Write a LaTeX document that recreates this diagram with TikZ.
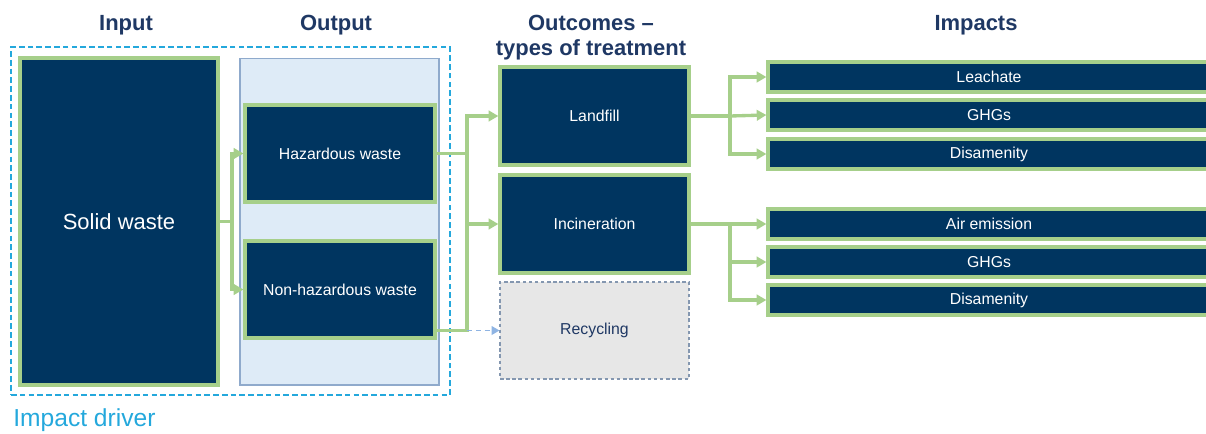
\documentclass[tikz,border=0pt]{standalone}
\usepackage{fontspec}
\setmainfont{Liberation Sans}
\usepackage{tikz}
\usetikzlibrary{shapes.geometric, arrows.meta}
\definecolor{navy}{RGB}{0,53,96}
\definecolor{leaf}{RGB}{166,207,138}
\definecolor{headblue}{RGB}{31,56,100}
\definecolor{drivercyan}{RGB}{36,168,220}
\definecolor{panelfill}{RGB}{222,235,247}
\definecolor{paneledge}{RGB}{143,170,204}
\definecolor{recyfill}{RGB}{231,231,231}
\definecolor{recyedge}{RGB}{132,151,176}
\definecolor{dashblue}{RGB}{143,180,227}
\tikzstyle{wastebox} = [rectangle, minimum width=3.8cm, minimum height=1.94cm, inner sep=0pt, text centered, draw=leaf, line width=1.9pt, fill=navy, text=white, font=\fontsize{9}{11}\selectfont]
\tikzstyle{treatbox} = [wastebox, minimum width=3.78cm, minimum height=1.96cm]
\tikzstyle{impactbox} = [wastebox, minimum width=8.84cm, minimum height=0.6cm]
\tikzstyle{header} = [text=headblue, align=center, font=\fontsize{12.5}{14.2}\selectfont\bfseries]
\tikzstyle{arrow} = [draw=leaf, line width=1.9pt, -{Triangle[length=5.5pt,width=6pt]}]
\tikzstyle{branch} = [draw=leaf, line width=1.9pt]
\tikzstyle{dasharrow} = [draw=dashblue, line width=0.8pt, dash pattern=on 3pt off 2pt, -{Triangle[length=4.5pt,width=5pt]}]

\begin{document}
\begin{tikzpicture}[x=0.02cm, y=-0.02cm]
  \useasboundingbox (0,0) rectangle (1206,433);
  \clip (0,0) rectangle (1206,433);

  \node (hin) [header] at (126,25) {Input};
  \node (hout) [header] at (336,25) {Output};
  \node (hoc) [header] at (591,37.5) {Outcomes --\\types of treatment};
  \node (himp) [header] at (976,25) {Impacts};

  \node (driver) [rectangle, draw=drivercyan, line width=0.9pt, dash pattern=on 3.2pt off 1.8pt, minimum width=8.78cm, minimum height=6.96cm] at (230.5,221) {};
  \node (drvlabel) [anchor=west, text=drivercyan, inner sep=0pt, font=\fontsize{14}{16}\selectfont] at (13,420) {Impact driver};

  \node (input) [wastebox, minimum width=3.96cm, minimum height=6.54cm, font=\fontsize{12.5}{14}\selectfont] at (119,221.5) {Solid waste};
  \node (outpanel) [rectangle, draw=paneledge, line width=0.6pt, fill=panelfill, minimum width=3.98cm, minimum height=6.54cm] at (339.5,221.5) {};
  \node (haz) [wastebox] at (340,153.5) {Hazardous waste};
  \node (nonhaz) [wastebox] at (340,289.5) {Non-hazardous waste};

  \node (landfill) [treatbox] at (594.5,116) {Landfill};
  \node (incin) [treatbox] at (594.5,224) {Incineration};
  \node (recyc) [rectangle, minimum width=3.78cm, minimum height=1.94cm, draw=recyedge, line width=0.6pt, dash pattern=on 2pt off 1.5pt, fill=recyfill, text=headblue, font=\fontsize{9}{11}\selectfont] at (594.5,330.5) {Recycling};

  \node (leach) [impactbox] at (989,77) {Leachate};
  \node (ghgl) [impactbox] at (989,115) {GHGs};
  \node (disl) [impactbox] at (989,154) {Disamenity};
  \node (air) [impactbox] at (989,224) {Air emission};
  \node (ghgi) [impactbox] at (989,262) {GHGs};
  \node (disi) [impactbox] at (989,300) {Disamenity};

  \coordinate (jin) at (232,221.5);
  \coordinate (jout) at (467,153.5);
  \coordinate (jland) at (730,116);
  \coordinate (jinc) at (730,224);

  \draw [branch] (input.east) -- (jin);
  \draw [arrow] (jin) |- (haz.west);
  \draw [arrow] (jin) |- (nonhaz.west);
  \draw [branch] (haz.east) -- (jout);
  \draw [branch] (nonhaz.east |- recyc.west) -| (jout);
  \draw [arrow] (jout) |- (landfill.west);
  \draw [arrow] (jout) |- (incin.west);
  \draw [dasharrow] (jout |- recyc.west) -- (recyc.west);

  \draw [branch] (landfill.east) -- (jland);
  \draw [arrow] (jland) |- (leach.west);
  \draw [arrow] (jland) -- (ghgl.west);
  \draw [arrow] (jland) |- (disl.west);
  \draw [branch] (incin.east) -- (jinc);
  \draw [arrow] (jinc) -- (air.west);
  \draw [arrow] (jinc) |- (ghgi.west);
  \draw [arrow] (jinc) |- (disi.west);
\end{tikzpicture}
\end{document}
